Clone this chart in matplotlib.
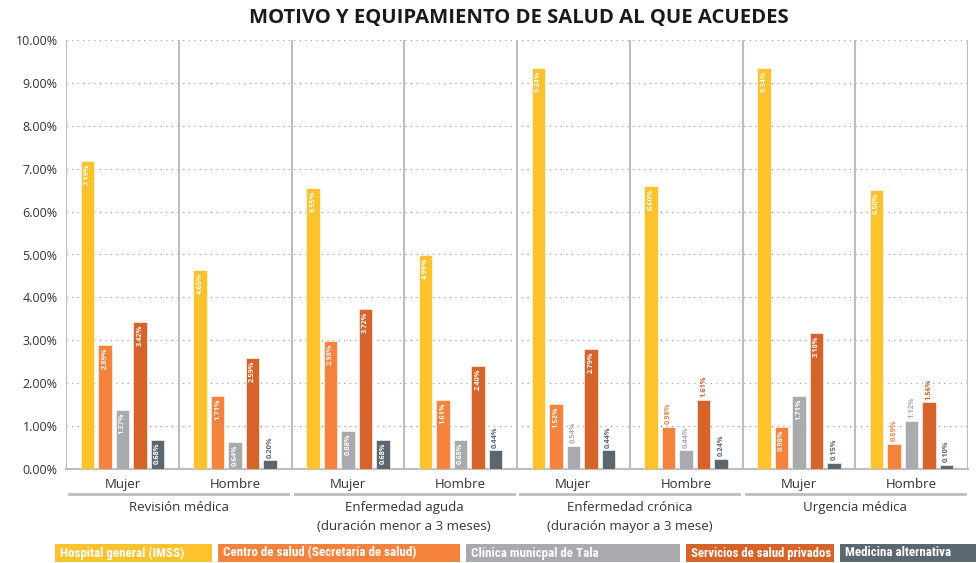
import matplotlib

matplotlib.use("Agg")
import matplotlib.pyplot as plt
import matplotlib.transforms as mtransforms
from matplotlib.patches import Rectangle
from matplotlib import font_manager
import numpy as np

plt.rcParams["font.family"] = ["Open Sans", "DejaVu Sans"]

TITLE = "MOTIVO Y EQUIPAMIENTO DE SALUD AL QUE ACUEDES"
GROUPS = [
    "Revisión médica",
    "Enfermedad aguda\n(duración menor a 3 meses)",
    "Enfermedad crónica\n(duración mayor a 3 mese)",
    "Urgencia médica",
]
SEXES = ["Mujer", "Hombre"]
SERIES = [
    "Hospital general (IMSS)",
    "Centro de salud (Secretaría de salud)",
    "Clínica municpal de Tala",
    "Servicios de salud privados",
    "Medicina alternativa",
]

# values in %, order: Rev M, Rev H, Aguda M, Aguda H, Crónica M, Crónica H, Urgencia M, Urgencia H
hospital = [7.19, 4.65, 6.55, 4.99, 9.34, 6.60, 9.34, 6.50]
centro = [2.89, 1.71, 2.98, 1.61, 1.52, 0.98, 0.98, 0.59]
clinica = [1.37, 0.64, 0.88, 0.68, 0.54, 0.44, 1.71, 1.12]
privados = [3.42, 2.59, 3.72, 2.40, 2.79, 1.61, 3.18, 1.56]
alternativa = [0.68, 0.20, 0.68, 0.44, 0.44, 0.24, 0.15, 0.10]

# (subgroup, series) whose label sits above the bar instead of inside
labels_above = {(1, 4), (3, 4), (4, 2), (4, 4), (5, 1), (5, 2), (5, 3), (5, 4),
                (6, 4), (7, 1), (7, 2), (7, 3), (7, 4)}

COLORS = ["#FEC22D", "#F5823D", "#A8AAAD", "#D5632A", "#5B6770"]
GRID = "#BDBDBD"

# a narrow face for the legend, if one is installed
installed = {f.name for f in font_manager.fontManager.ttflist}
narrow = [n for n in ["Liberation Sans Narrow", "DejaVu Sans Condensed", "Roboto Condensed"]
          if n in installed]
LEGEND_FONT = (narrow[:1] or ["Roboto"]) + ["DejaVu Sans"]

values = [hospital, centro, clinica, privados, alternativa]
n_sub = len(hospital)

fig = plt.figure(figsize=(9.76, 5.63), dpi=100)
ax = fig.add_axes([66 / 976, 1 - 469 / 563, 902 / 976, 429 / 563])

x = np.arange(n_sub) + 0.5
step, width = 0.155, 0.12
for s, vals in enumerate(values):
    xs = x + (s - 2) * step
    ax.bar(xs, vals, width=width, color=COLORS[s], edgecolor="white", linewidth=0.4, zorder=3)
    for i, (xi, v) in enumerate(zip(xs, vals)):
        lab = f"{v:.2f}%"
        if (i, s) in labels_above:
            ax.text(xi, v + 0.06, lab, rotation=90, ha="center", va="bottom",
                    fontsize=5.3, fontweight="bold", color=COLORS[s], zorder=4)
        else:
            ax.text(xi, v - 0.06, lab, rotation=90, ha="center", va="top",
                    fontsize=5.3, fontweight="bold", color="white", zorder=4)

ax.set_xlim(0, n_sub)
ax.set_ylim(0, 10)
ax.set_yticks(np.arange(0, 11, 1))
ax.set_yticklabels([f"{t:.2f}%" for t in np.arange(0, 11, 1)], fontsize=9, color="#333333")
ax.set_xticks([])
ax.tick_params(axis="y", length=0, pad=6)
ax.yaxis.grid(True, linestyle=(0, (1, 4)), color="#9A9A9A", linewidth=0.8)
ax.set_axisbelow(True)
for side in ["top", "right", "left"]:
    ax.spines[side].set_visible(False)
ax.spines["bottom"].set_color(GRID)
ax.spines["bottom"].set_linewidth(1.5)
for b in range(n_sub + 1):
    ax.axvline(b, color=GRID, linewidth=1.5, zorder=2)

trans = mtransforms.blended_transform_factory(ax.transData, ax.transAxes)
for i in range(n_sub):
    ax.text(x[i], -0.036, SEXES[i % 2], transform=trans, ha="center", va="center",
            fontsize=9.5, color="#333333")
for g, name in enumerate(GROUPS):
    ax.plot([2 * g + 0.03, 2 * g + 1.97], [-0.058, -0.058], transform=trans,
            color=GRID, linewidth=2, clip_on=False)
    ax.text(2 * g + 1, -0.075, name, transform=trans, ha="center", va="top",
            fontsize=9.5, color="#333333", linespacing=1.55)

fig.text(0.532, 1 - 18 / 563, TITLE, ha="center", va="center", fontsize=14.6,
         fontweight="bold", color="#1A1A1A")

# legend as coloured boxes along the bottom (pixel positions of the boxes)
box_left = [55, 218, 466, 686, 840]
box_width = [157, 242, 214, 148, 145]
W, H = 976, 563
fig.canvas.draw()
renderer = fig.canvas.get_renderer()
for s, name in enumerate(SERIES):
    fig.patches.append(Rectangle((box_left[s] / W, 1 - 562 / H), box_width[s] / W, 18 / H,
                                 transform=fig.transFigure, facecolor=COLORS[s],
                                 edgecolor="none"))
    t = fig.text((box_left[s] + 5) / W, 1 - 553 / H, name, ha="left", va="center",
                 fontsize=9.4, fontweight="bold", color="white", family=LEGEND_FONT)
    tw = t.get_window_extent(renderer).width
    if tw > box_width[s] - 8:
        t.set_fontsize(9.4 * (box_width[s] - 8) / tw)

fig.savefig("out.png", dpi=100)
